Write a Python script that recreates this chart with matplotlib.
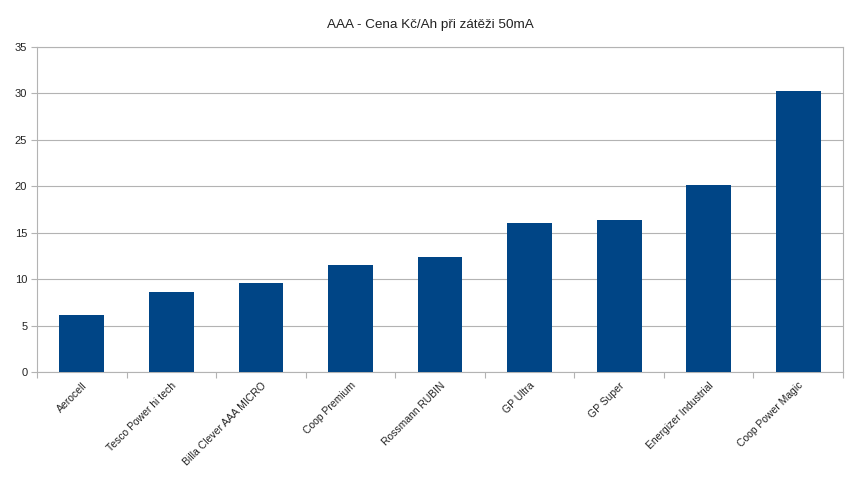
import matplotlib
matplotlib.use("Agg")
import matplotlib.pyplot as plt
import numpy as np

# values
brands = [
    "Aerocell",
    "Tesco Power hi tech",
    "Billa Clever AAA MICRO",
    "Coop Premium",
    "Rossmann RUBIN",
    "GP Ultra",
    "GP Super",
    "Energizer Industrial",
    "Coop Power Magic",
]
price_per_ah = [6.1, 8.6, 9.6, 11.5, 12.4, 16.0, 16.4, 20.1, 30.25]
y_ticks = [0, 5, 10, 15, 20, 25, 30, 35]

plt.rcParams["font.family"] = ["Liberation Sans", "DejaVu Sans"]

BAR_COLOR = "#004586"
GRID_COLOR = "#b3b3b3"
TEXT_COLOR = "#222222"

fig = plt.figure(figsize=(8.6, 4.83), dpi=100)
ax = fig.add_axes([37 / 860, 1 - 372 / 483, (843 - 37) / 860, (372 - 47) / 483])

x = np.arange(len(brands))
ax.bar(x, price_per_ah, width=0.5, color=BAR_COLOR, zorder=3)

ax.set_xlim(-0.5, len(brands) - 0.5)
ax.set_ylim(0, 35)
ax.set_yticks(y_ticks)
ax.set_yticklabels([str(v) for v in y_ticks], fontsize=8, color=TEXT_COLOR)
ax.yaxis.grid(True, color=GRID_COLOR, linewidth=0.8, zorder=0)

# category labels at centres, boundary ticks between categories
ax.set_xticks(x)
ax.set_xticklabels(brands, rotation=45, ha="right", rotation_mode="anchor",
                   fontsize=7.5, color=TEXT_COLOR)
ax.tick_params(axis="x", length=0, pad=6)
ax.set_xticks(np.arange(len(brands) + 1) - 0.5, minor=True)
ax.tick_params(axis="x", which="minor", length=4, color=GRID_COLOR, width=0.8)
ax.tick_params(axis="y", length=4, color=GRID_COLOR, width=0.8, pad=3)

for side in ("left", "right", "top", "bottom"):
    ax.spines[side].set_color(GRID_COLOR)
    ax.spines[side].set_linewidth(0.8)

fig.text(0.5, 1 - 25 / 483, "AAA - Cena Kč/Ah při zátěži 50mA",
         ha="center", va="center", fontsize=9.7, color=TEXT_COLOR)

fig.savefig("out.png", dpi=100)
